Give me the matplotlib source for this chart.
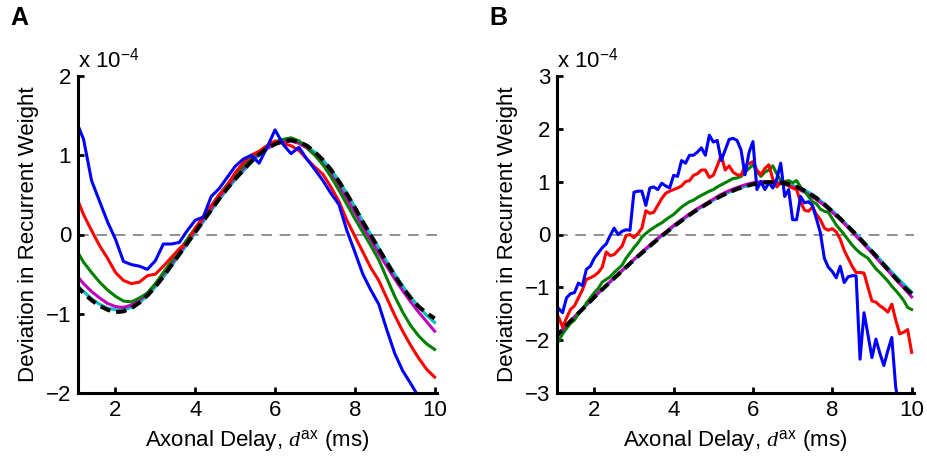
"""Deviation in recurrent weight versus axonal delay (panels A and B)."""

import matplotlib
matplotlib.use('Agg')
import matplotlib.pyplot as plt
import numpy as np

plt.rcParams['font.family'] = ['Liberation Sans', 'DejaVu Sans']
plt.rcParams['mathtext.fontset'] = 'custom'
plt.rcParams['mathtext.rm'] = 'Liberation Sans'
plt.rcParams['mathtext.it'] = 'Liberation Serif:italic'
plt.rcParams['mathtext.bf'] = 'Liberation Sans:bold'

# sample positions (ms)
x_coarse = np.round(np.arange(1.0, 10.01, 0.2), 1)   # 46 points
x_fine = np.round(np.arange(1.0, 10.01, 0.1), 1)     # 91 points

# ---------------- panel A (x 1e-4), step 0.2 ----------------
a_black = [-0.64, -0.74, -0.83, -0.90, -0.95, -0.98, -0.97, -0.93, -0.86, -0.77,
           -0.66, -0.53, -0.39, -0.25, -0.11, 0.03, 0.17, 0.31, 0.45, 0.58,
           0.70, 0.81, 0.92, 1.01, 1.09, 1.14, 1.18, 1.19, 1.17, 1.12,
           1.04, 0.94, 0.82, 0.67, 0.51, 0.34, 0.16, -0.01, -0.18, -0.35,
           -0.52, -0.67, -0.80, -0.91, -0.99, -1.06]
a_cyan = [-0.62, -0.72, -0.81, -0.88, -0.93, -0.95, -0.95, -0.92, -0.86, -0.77,
          -0.66, -0.54, -0.40, -0.26, -0.12, 0.02, 0.16, 0.30, 0.44, 0.57,
          0.69, 0.80, 0.91, 1.00, 1.08, 1.14, 1.17, 1.18, 1.16, 1.11,
          1.04, 0.94, 0.82, 0.68, 0.52, 0.35, 0.17, 0.00, -0.17, -0.34,
          -0.50, -0.65, -0.79, -0.91, -1.02, -1.11]
a_magenta = [-0.50, -0.62, -0.72, -0.80, -0.87, -0.91, -0.92, -0.89, -0.83, -0.74,
             -0.63, -0.50, -0.37, -0.23, -0.09, 0.05, 0.19, 0.33, 0.47, 0.60,
             0.72, 0.83, 0.93, 1.02, 1.09, 1.14, 1.17, 1.18, 1.15, 1.09,
             1.00, 0.89, 0.76, 0.61, 0.45, 0.28, 0.10, -0.07, -0.24, -0.40,
             -0.56, -0.71, -0.85, -0.98, -1.10, -1.22]
a_green = [-0.18, -0.35, -0.48, -0.60, -0.70, -0.78, -0.84, -0.85, -0.80, -0.74,
           -0.62, -0.48, -0.34, -0.20, -0.06, 0.08, 0.22, 0.36, 0.50, 0.63,
           0.75, 0.86, 0.96, 1.04, 1.12, 1.17, 1.20, 1.22, 1.18, 1.10,
           1.00, 0.88, 0.73, 0.56, 0.38, 0.20, 0.03, -0.14, -0.32, -0.55,
           -0.78, -0.98, -1.15, -1.28, -1.38, -1.45]
a_red = [0.50, 0.25, 0.05, -0.14, -0.30, -0.48, -0.58, -0.62, -0.60, -0.52,
         -0.50, -0.40, -0.29, -0.18, -0.10, 0.08, 0.22, 0.36, 0.50, 0.62,
         0.78, 0.90, 1.00, 1.05, 1.12, 1.18, 1.15, 1.12, 1.06, 0.95,
         0.85, 0.76, 0.60, 0.42, 0.18, -0.02, -0.22, -0.42, -0.58, -0.80,
         -1.02, -1.22, -1.40, -1.56, -1.70, -1.80]
a_blue = [1.45, 1.20, 0.68, 0.42, 0.16, -0.06, -0.34, -0.38, -0.40, -0.44,
          -0.33, -0.12, -0.12, -0.10, 0.05, 0.18, 0.22, 0.48, 0.58, 0.72,
          0.86, 0.95, 1.00, 0.90, 1.10, 1.32, 1.14, 1.02, 1.10, 0.95,
          0.82, 0.68, 0.52, 0.38, 0.05, -0.22, -0.50, -0.70, -0.88, -1.20,
          -1.50, -1.72, -1.88, -2.05, -2.25, -2.45]

# ---------------- panel B (x 1e-4) ----------------
b_black = [-1.96, -1.80, -1.64, -1.49, -1.34, -1.19, -1.04, -0.90, -0.76, -0.62,
           -0.48, -0.35, -0.22, -0.09, 0.03, 0.15, 0.26, 0.37, 0.47, 0.56,
           0.65, 0.73, 0.80, 0.86, 0.91, 0.95, 0.98, 0.99, 0.99, 0.97,
           0.93, 0.87, 0.79, 0.69, 0.57, 0.44, 0.30, 0.15, 0.00, -0.16,
           -0.32, -0.49, -0.66, -0.83, -0.99, -1.12]
b_cyan = [-1.94, -1.79, -1.64, -1.49, -1.34, -1.19, -1.04, -0.90, -0.76, -0.62,
          -0.48, -0.35, -0.22, -0.09, 0.03, 0.15, 0.26, 0.37, 0.47, 0.56,
          0.65, 0.73, 0.80, 0.86, 0.91, 0.95, 0.98, 0.99, 0.99, 0.97,
          0.93, 0.87, 0.80, 0.70, 0.58, 0.45, 0.31, 0.16, 0.01, -0.15,
          -0.31, -0.47, -0.63, -0.79, -0.94, -1.09]
b_magenta = [-1.95, -1.80, -1.64, -1.48, -1.33, -1.18, -1.03, -0.89, -0.75, -0.61,
             -0.47, -0.33, -0.20, -0.07, 0.05, 0.17, 0.28, 0.39, 0.49, 0.58,
             0.67, 0.76, 0.83, 0.89, 0.94, 0.98, 1.00, 1.00, 0.98, 0.95,
             0.90, 0.84, 0.76, 0.66, 0.55, 0.42, 0.28, 0.13, -0.03, -0.19,
             -0.35, -0.52, -0.68, -0.85, -1.01, -1.18]
# step 0.1
b_green = [-2.10, -2.02, -1.88, -1.78, -1.68, -1.62, -1.50, -1.42, -1.30, -1.20,
           -1.10, -1.02, -0.90, -0.85, -0.80, -0.72, -0.65, -0.58, -0.45, -0.35,
           -0.25, -0.16, -0.05, 0.02, 0.08, 0.13, 0.18, 0.22, 0.28, 0.33,
           0.38, 0.45, 0.52, 0.57, 0.62, 0.65, 0.70, 0.74, 0.78, 0.82,
           0.85, 0.90, 0.94, 0.98, 1.02, 1.06, 1.07, 1.10, 1.18, 1.25,
           1.32, 1.20, 1.10, 1.18, 1.22, 1.30, 1.15, 1.02, 1.00, 1.02,
           0.98, 1.02, 0.90, 0.82, 0.72, 0.62, 0.58, 0.48, 0.44, 0.42,
           0.30, 0.18, 0.09, 0.00, -0.10, -0.20, -0.28, -0.35, -0.40, -0.45,
           -0.55, -0.65, -0.72, -0.80, -0.88, -0.98, -1.06, -1.15, -1.25, -1.38,
           -1.42]
b_red = [-1.52, -1.56, -1.75, -1.58, -1.42, -1.35, -1.20, -1.05, -0.85, -0.82,
         -0.78, -0.72, -0.62, -0.33, -0.40, -0.38, -0.30, -0.22, -0.02, 0.00,
         -0.06, 0.02, 0.12, 0.45, 0.40, 0.42, 0.55, 0.68, 0.78, 0.82,
         0.85, 0.88, 0.92, 1.00, 1.02, 1.12, 1.15, 1.22, 1.22, 1.08,
         1.12, 1.30, 1.50, 1.22, 1.30, 1.18, 1.13, 1.12, 1.30, 1.34,
         1.38, 1.22, 1.13, 1.25, 1.32, 1.05, 0.90, 0.98, 1.00, 0.92,
         0.88, 0.85, 0.62, 0.46, 0.44, 0.52, 0.38, 0.28, 0.12, 0.08,
         0.11, 0.05, -0.09, -0.30, -0.45, -0.60, -0.72, -0.72, -0.73, -1.00,
         -1.26, -1.28, -1.35, -1.40, -1.47, -1.32, -1.62, -1.88, -1.85, -1.80,
         -2.23]
b_blue = [-1.35, -1.40, -1.48, -1.20, -1.12, -1.10, -0.92, -0.97, -0.66, -0.60,
          -0.45, -0.35, -0.25, -0.18, -0.02, 0.12, 0.00, 0.06, 0.09, 0.08,
          0.80, 0.82, 0.82, 0.55, 0.88, 0.90, 0.85, 0.97, 0.92, 0.88,
          1.12, 1.10, 1.40, 1.35, 1.50, 1.50, 1.56, 1.64, 1.50, 1.88,
          1.75, 1.78, 1.40, 1.60, 1.80, 1.82, 1.78, 1.60, 1.13, 1.55,
          1.76, 0.85, 1.00, 0.85, 0.98, 0.88, 1.05, 1.35, 0.72, 0.85,
          0.28, 0.28, 0.72, 0.60, 0.62, 0.55, 0.30, 0.03, -0.45, -0.62,
          -0.70, -0.82, -0.60, -0.91, -0.80, -0.78, -0.78, -2.36, -1.48, -1.90,
          -2.33, -1.98, -2.25, -2.48, -2.20, -1.95, -2.90, -3.30, -3.60, -3.90,
          -4.20]

CYAN = (0, 0.75, 0.75)
MAGENTA = (0.75, 0, 0.75)
GREEN = (0, 0.5, 0)
FS = 16


def draw_panel(ax, ylim, series_coarse, series_fine, black):
    for y, c in series_coarse:
        ax.plot(x_coarse, y, color=c, lw=2.2)
    for y, c in series_fine:
        ax.plot(x_fine, y, color=c, lw=2.2)
    ax.plot(x_coarse, black, color='k', lw=2.9, dashes=(2.6, 1.5))
    ax.axhline(0, color='0.45', lw=1.1, dashes=(7, 5), zorder=0)

    ax.set_xlim(1.06, 10.06)
    ax.set_ylim(*ylim)
    ax.set_xticks([2, 4, 6, 8, 10])
    ax.set_yticks(np.arange(ylim[0], ylim[1] + 1))
    for side in ['top', 'right']:
        ax.spines[side].set_visible(False)
    for side in ['left', 'bottom']:
        ax.spines[side].set_linewidth(2.2)
    ax.tick_params(direction='in', length=4, width=2, labelsize=FS, pad=5)
    ax.set_xlabel(r'Axonal Delay, $d^{\mathrm{ax}}$ (ms)', fontsize=FS, labelpad=5)
    ax.set_ylabel('Deviation in Recurrent Weight', fontsize=FS, labelpad=5)
    ax.text(0.0, 1.012, r'x 10$^{\mathrm{-4}}$', transform=ax.transAxes,
            fontsize=FS, ha='left', va='bottom')


fig = plt.figure(figsize=(9.28, 4.63), dpi=100)
ax_a = fig.add_axes([78 / 928, 70 / 463, 359 / 928, 317 / 463])
ax_b = fig.add_axes([557 / 928, 70 / 463, 357 / 928, 317 / 463])

draw_panel(ax_a, (-2, 2),
           [(a_cyan, CYAN), (a_magenta, MAGENTA), (a_green, GREEN),
            (a_red, 'r'), (a_blue, 'b')], [], a_black)
draw_panel(ax_b, (-3, 3),
           [(b_cyan, CYAN), (b_magenta, MAGENTA)],
           [(b_green, GREEN), (b_red, 'r'), (b_blue, 'b')], b_black)

fig.text(10 / 928, 1 - 25 / 463, 'A', fontsize=18, fontweight='bold')
fig.text(489 / 928, 1 - 25 / 463, 'B', fontsize=18, fontweight='bold')

fig.savefig('out.png', dpi=100)
